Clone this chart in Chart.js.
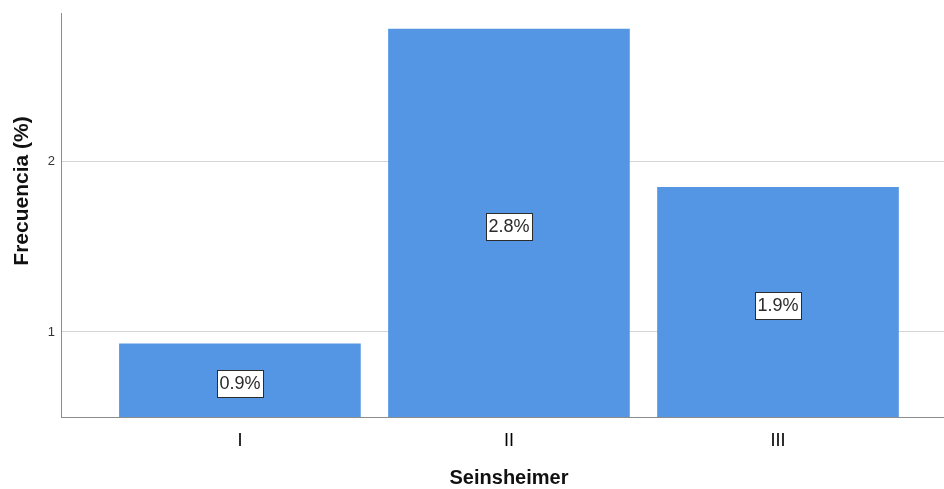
<!DOCTYPE html>
<html>
<head>
<meta charset="utf-8">
<script src="https://cdn.jsdelivr.net/npm/chart.js@4/dist/chart.umd.min.js"></script>
<style>
  html, body { margin: 0; padding: 0; background: #ffffff; }
  #wrap { width: 944px; height: 489px; }
</style>
</head>
<body>
<div id="wrap"><canvas id="chart" width="944" height="489"></canvas></div>
<script>
// Seinsheimer classification and frequency (%) of each type
const categories = ['I', 'II', 'III'];
const frequencies = [0.93, 2.78, 1.85];
const yTickValues = [1, 2];
const xTitle = 'Seinsheimer';
const yTitle = 'Frecuencia (%)';

const FONT = '"Liberation Sans", Arial, sans-serif';
const BAR_COLOR = '#5596E4';

// Value boxes drawn in the middle of each visible bar
const valueBoxes = {
  id: 'valueBoxes',
  afterDatasetsDraw(chart) {
    const { ctx, chartArea } = chart;
    const meta = chart.getDatasetMeta(0);
    ctx.save();
    ctx.font = '18px ' + FONT;
    ctx.textAlign = 'center';
    ctx.textBaseline = 'middle';
    meta.data.forEach((bar, i) => {
      const text = frequencies[i].toFixed(1) + '%';
      const cx = Math.round(bar.x);
      const cy = Math.round((bar.y + chartArea.bottom) / 2) + 3;
      const w = Math.round(ctx.measureText(text).width) + 5;
      const h = 27;
      const x0 = Math.round(cx - w / 2) + 0.5;
      const y0 = Math.round(cy - h / 2) + 0.5;
      ctx.fillStyle = '#ffffff';
      ctx.fillRect(x0, y0, w, h);
      ctx.strokeStyle = '#2b2b2b';
      ctx.lineWidth = 1;
      ctx.strokeRect(x0, y0, w, h);
      ctx.fillStyle = '#2a2a2a';
      ctx.fillText(text, cx, cy + 1);
    });
    ctx.restore();
  }
};

// Axis titles
const axisTitles = {
  id: 'axisTitles',
  afterDraw(chart) {
    const { ctx } = chart;
    ctx.save();
    ctx.font = 'bold 20px ' + FONT;
    ctx.fillStyle = '#111111';
    ctx.textAlign = 'center';
    ctx.textBaseline = 'middle';
    ctx.fillText(xTitle, 509, 478);
    ctx.font = 'bold 21px ' + FONT;
    ctx.translate(22, 191);
    ctx.rotate(-Math.PI / 2);
    ctx.fillText(yTitle, 0, 0);
    ctx.restore();
  }
};

new Chart(document.getElementById('chart'), {
  type: 'bar',
  data: {
    datasets: [{
      data: categories.map((c, i) => ({ x: i + 1, y: frequencies[i] })),
      backgroundColor: BAR_COLOR,
      borderWidth: 0,
      barThickness: 241
    }]
  },
  options: {
    responsive: false,
    animation: false,
    devicePixelRatio: 1,
    layout: { padding: { top: 12, right: 0, left: 0, bottom: 0 } },
    plugins: {
      legend: { display: false },
      tooltip: { enabled: false }
    },
    scales: {
      x: {
        type: 'linear',
        offset: false,
        min: 0.335,
        max: 3.617,
        grid: { display: false, drawTicks: false },
        border: { display: true, color: '#8c8c8c', width: 1 },
        afterBuildTicks(scale) {
          scale.ticks = categories.map((c, i) => ({ value: i + 1 }));
        },
        ticks: {
          autoSkip: false,
          maxRotation: 0,
          padding: 13,
          color: '#000000',
          font: { family: FONT, size: 18 },
          callback: (v) => categories[v - 1] || ''
        },
        afterFit(scale) { scale.height = 72; }
      },
      y: {
        min: 0.5,
        max: 2.87,
        grid: { color: '#d4d4d4', drawTicks: false },
        border: { display: true, color: '#8c8c8c', width: 1 },
        afterBuildTicks(scale) {
          scale.ticks = yTickValues.map(v => ({ value: v }));
        },
        ticks: {
          padding: 6,
          color: '#333333',
          font: { family: FONT, size: 13 },
          callback: (v) => String(v)
        },
        afterFit(scale) { scale.width = 61; }
      }
    }
  },
  plugins: [valueBoxes, axisTitles]
});
</script>
</body>
</html>
